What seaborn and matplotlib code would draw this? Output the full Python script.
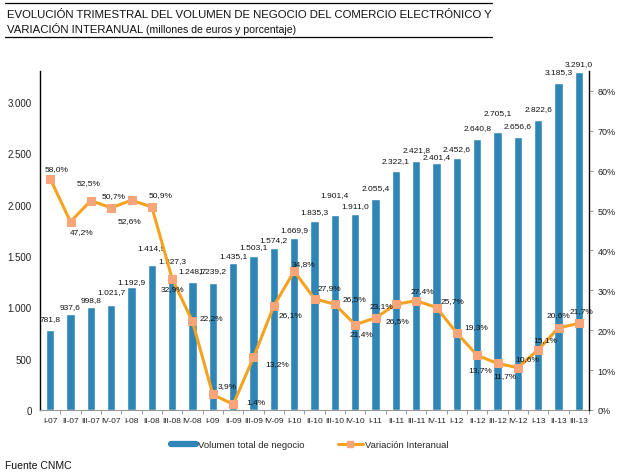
import numpy as np
import pandas as pd
import matplotlib
matplotlib.use("Agg")
import matplotlib.pyplot as plt
from matplotlib.lines import Line2D
from matplotlib.ticker import FuncFormatter, FixedLocator
import seaborn as sns

quarters = ["I-07", "II-07", "III-07", "IV-07", "I-08", "II-08", "III-08", "IV-08",
            "I-09", "II-09", "III-09", "IV-09", "I-10", "II-10", "III-10", "IV-10",
            "I-11", "II-11", "III-11", "IV-11", "I-12", "II-12", "III-12", "IV-12",
            "I-13", "II-13", "III-13"]
volumen = [781.8, 937.6, 998.8, 1021.7, 1192.9, 1414.9, 1327.3, 1248.7,
           1239.2, 1435.1, 1503.1, 1574.2, 1669.9, 1835.3, 1901.4, 1911.0,
           2055.4, 2322.1, 2421.8, 2401.4, 2452.6, 2640.8, 2705.1, 2656.6,
           2822.6, 3185.3, 3291.0]
variacion = [58.0, 47.2, 52.5, 50.7, 52.6, 50.9, 32.9, 22.2,
             3.9, 1.4, 13.2, 26.1, 34.8, 27.9, 26.5, 21.4,
             23.1, 26.5, 27.4, 25.7, 19.3, 13.7, 11.7, 10.6,
             15.1, 20.6, 21.7]

# label placement offsets for the percentage labels (pixels: dx right, dy down)
pct_label_dx = [6, 11, -2, 2, -2, 9, 0, 19, 14, 23, 24, 17, 9, 15, 20, 6,
                6, 2, 6, 16, 19, 3, 7, 9, 7, 0, 3]
pct_label_dy = [-10, 10, -18, -12, 20, -12, 10, -4, -9, -3, 6, 9, -8, -11, -6, 9,
                -12, 16, -10, -7, -6, 14, 12, -9, -10, -13, -13]
# label placement for the bar labels (pixels above the bar top, label centre)
bar_label_up = [11, 7, 8, 13, 6, 17, 13, 11, 12, 7, 9, 9, 9, 10, 20, 8,
                11, 11, 12, 7, 10, 11, 20, 12, 11, 11, 8]

BAR_COLOR = "#2F86B6"
LINE_COLOR = "#F5A21E"
MARKER_COLOR = "#F8A679"

sns.set_theme(style="white")
plt.rcParams["font.family"] = ["Liberation Sans", "DejaVu Sans"]

def fmt_es(v, dec=1):
    s = f"{v:,.{dec}f}"
    return s.replace(",", "X").replace(".", ",").replace("X", ".")

df = pd.DataFrame({"trimestre": quarters, "volumen": volumen,
                   "variacion": variacion, "pos": np.arange(len(quarters))})

fig = plt.figure(figsize=(6.32, 4.77), dpi=100)
ax = fig.add_axes([40 / 632, 1 - 411 / 477, (589 - 40) / 632, (411 - 72) / 477])

sns.barplot(data=df, x="trimestre", y="volumen", color=BAR_COLOR, width=0.4,
            saturation=1, ax=ax, order=quarters)
ax.set_xlim(-0.5, len(quarters) - 0.5)
ax.set_ylim(0, 3300)
ax.set_xlabel("")
ax.set_ylabel("")
ax.yaxis.set_major_locator(FixedLocator([0, 500, 1000, 1500, 2000, 2500, 3000]))
ax.yaxis.set_major_formatter(FuncFormatter(lambda v, p: fmt_es(v, 0)))
ax.tick_params(axis="y", length=0, labelsize=7, pad=6, colors="#222222")
ax.tick_params(axis="x", which="major", length=0, labelsize=6.0, pad=5, colors="#222222")
ax.set_xticks(np.arange(len(quarters)) + 0.5, minor=True)
ax.tick_params(axis="x", which="minor", length=3, width=0.6, color="#888888", bottom=True)

for sp in ["top", "right"]:
    ax.spines[sp].set_visible(False)
ax.spines["left"].set_color("black")
ax.spines["left"].set_linewidth(1.0)
ax.spines["bottom"].set_color("#999999")
ax.spines["bottom"].set_linewidth(0.8)

for i, v in enumerate(volumen):
    ax.annotate(fmt_es(v), (i, v), xytext=(0, bar_label_up[i] * 0.72),
                textcoords="offset points", ha="center", va="center",
                fontsize=6.0, color="#111111")

ax2 = ax.twinx()
sns.lineplot(data=df, x="pos", y=df["variacion"] / 100, ax=ax2, color=LINE_COLOR,
             linewidth=2.2, marker="s", markersize=5.5, markerfacecolor=MARKER_COLOR,
             markeredgecolor=MARKER_COLOR, zorder=5)
ax2.set_ylim(0, 0.85)
ax2.set_xlim(-0.5, len(quarters) - 0.5)
ax2.set_ylabel("")
ax2.set_xlabel("")
ax2.yaxis.set_major_locator(FixedLocator(np.arange(0, 0.81, 0.1)))
ax2.yaxis.set_major_formatter(FuncFormatter(lambda v, p: f"{v * 100:.0f}%"))
ax2.tick_params(axis="y", right=True, length=3, width=0.6, color="#888888",
                labelsize=6.5, pad=3, labelcolor="#222222")
for sp in ["top", "left", "bottom"]:
    ax2.spines[sp].set_visible(False)
ax2.spines["right"].set_color("black")
ax2.spines["right"].set_linewidth(1.0)

for i, v in enumerate(variacion):
    ax2.annotate(fmt_es(v) + "%", (i, v / 100),
                 xytext=(pct_label_dx[i] * 0.72, -pct_label_dy[i] * 0.72),
                 textcoords="offset points", ha="center", va="center",
                 fontsize=6.0, color="#111111", zorder=6)

# title with rules
fig.add_artist(Line2D([5 / 632, 492 / 632], [1 - 4 / 477, 1 - 4 / 477],
                      color="black", linewidth=0.9))
fig.add_artist(Line2D([5 / 632, 492 / 632], [1 - 38 / 477, 1 - 38 / 477],
                      color="black", linewidth=0.9))
fig.text(7 / 632, 1 - 15 / 477,
         "EVOLUCIÓN TRIMESTRAL DEL VOLUMEN DE NEGOCIO DEL COMERCIO ELECTRÓNICO Y",
         ha="left", va="center", fontsize=8.2, color="#111111")
t2 = fig.text(7 / 632, 1 - 30 / 477, "VARIACIÓN INTERANUAL ",
              ha="left", va="center", fontsize=8.2, color="#111111")
fig.canvas.draw()
bb = t2.get_window_extent()
fig.text(bb.x1 / fig.bbox.width, 1 - 30 / 477, "(millones de euros y porcentaje)",
         ha="left", va="center", fontsize=7.6, color="#111111")

handles = [Line2D([], [], color=BAR_COLOR, linewidth=4.5),
           Line2D([], [], color=LINE_COLOR, linewidth=2.2, marker="s",
                  markersize=5, markerfacecolor=MARKER_COLOR, markeredgecolor=MARKER_COLOR)]
fig.legend(handles, ["Volumen total de negocio", "Variación Interanual"],
           loc="center", bbox_to_anchor=(310 / 632, 1 - 446 / 477), ncol=2,
           frameon=False, fontsize=6.8, handlelength=2.6, handletextpad=0.3,
           columnspacing=3.5)

fig.text(5 / 632, 1 - 466 / 477, "Fuente CNMC", ha="left", va="center",
         fontsize=7.5, color="#111111")

fig.savefig("out.png", dpi=100)
